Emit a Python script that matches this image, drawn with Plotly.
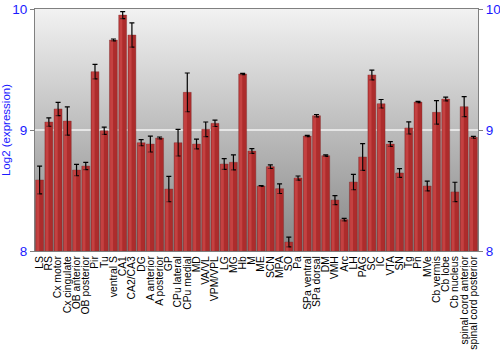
import plotly.graph_objects as go

categories = ["LS", "RS", "Cx motor", "Cx cingulate", "OB anterior", "OB posterior", "Pir", "Tu",
              "ventral S", "CA1", "CA2/CA3", "DG", "A anterior", "A posterior", "GP", "CPu lateral",
              "CPu medial", "MD", "VA/VL", "VPM/VPL", "LG", "MG", "Hb", "M", "ME", "SCN", "MPA", "SO",
              "Pa", "SPa ventral", "SPa dorsal", "DM", "VMH", "Arc", "LH", "PAG", "SC", "IC", "VTA",
              "SN", "Tg", "Pn", "MVe", "Cb vermis", "Cb lobe", "Cb nucleus", "spinal cord anterior",
              "spinal cord posterior"]
values = [8.587, 9.066, 9.174, 9.074, 8.669, 8.702, 9.482, 8.994,
          9.744, 9.950, 9.785, 8.895, 8.884, 8.934, 8.512, 8.895,
          9.311, 8.884, 9.006, 9.055, 8.719, 8.733, 9.463, 8.826, 8.537, 8.697, 8.515, 8.074,
          8.603, 8.950, 9.118, 8.788, 8.421, 8.259, 8.570, 8.777, 9.455, 9.217, 8.884,
          8.645, 9.017, 9.231, 8.537, 9.146, 9.256, 8.488, 9.193, 8.940]
errors = [0.115, 0.035, 0.055, 0.117, 0.047, 0.03, 0.06, 0.03,
          0.008, 0.029, 0.10, 0.025, 0.066, 0.008, 0.105, 0.11,
          0.16, 0.04, 0.06, 0.026, 0.044, 0.062, 0.005, 0.02, 0.004, 0.015, 0.04, 0.04,
          0.017, 0.005, 0.01, 0.006, 0.037, 0.01, 0.064, 0.11, 0.04, 0.035, 0.02,
          0.036, 0.05, 0.005, 0.04, 0.097, 0.015, 0.08, 0.083, 0.008]
y_ticks = [8, 9, 10]
y_range = [8, 10]

n = len(categories)
pos = list(range(n))
blue = "#1a1aff"
xr = [-0.5, n - 0.5]

fig = go.Figure()
# background gradient (base subplot, drawn first)
fig.add_trace(go.Scatter(
    x=[xr[0], xr[1], xr[1], xr[0], xr[0]], y=[y_range[0], y_range[0], y_range[1], y_range[1], y_range[0]],
    fill="toself", mode="none",
    fillgradient=dict(type="vertical", colorscale=[[0, "#868686"], [1, "#f2f2f2"]]),
    hoverinfo="skip", showlegend=False))
# white gridline at 9
fig.add_trace(go.Scatter(x=xr, y=[9, 9], mode="lines",
                         line=dict(color="#f4f4f4", width=1.5), hoverinfo="skip", showlegend=False))
# bars on overlaying subplot
fig.add_trace(go.Bar(x=pos, y=[v - y_range[0] for v in values], base=y_range[0], width=0.86,
                     xaxis="x2", yaxis="y2",
                     marker=dict(color="#ad2c2c", line=dict(color="rgba(120,40,40,0.6)", width=0.6)),
                     error_y=dict(type="data", array=errors, color="black", thickness=1.2, width=2.5),
                     showlegend=False))
# highlight on left part of bars
fig.add_trace(go.Bar(x=[p - 0.2 for p in pos], y=[v - y_range[0] for v in values], base=y_range[0],
                     width=0.32, xaxis="x2", yaxis="y2",
                     marker=dict(color="rgba(225,90,90,0.45)", line=dict(width=0)),
                     hoverinfo="skip", showlegend=False))

font = "Liberation Sans, Arial, sans-serif"
fig.update_layout(
    width=500, height=350, barmode="overlay",
    margin=dict(l=35, r=22, t=9, b=99),
    paper_bgcolor="white", plot_bgcolor="white",
    font=dict(family=font),
    xaxis=dict(range=xr, tickvals=pos, ticktext=categories, tickangle=-90, automargin=False,
               tickfont=dict(size=10.4, color="black"), showgrid=False, zeroline=False,
               showline=True, linecolor="#808080", linewidth=1, mirror=True, ticks=""),
    xaxis2=dict(range=xr, overlaying="x", visible=False),
    yaxis=dict(range=y_range, tickvals=y_ticks, showgrid=False, zeroline=False, automargin=False,
               tickfont=dict(size=13.5, color=blue), ticks="outside", ticklen=4, tickcolor="#808080",
               showline=True, linecolor="#808080", linewidth=1,
               title=dict(text="Log2 (expression)", font=dict(size=11.5, color=blue), standoff=2)),
    yaxis2=dict(range=y_range, tickvals=y_ticks, overlaying="y", side="right", showgrid=False,
                zeroline=False, automargin=False, tickfont=dict(size=13.5, color=blue), ticks="outside",
                ticklen=4, tickcolor="#808080", showline=True, linecolor="#808080", linewidth=1),
)
fig.write_html("out.html")
